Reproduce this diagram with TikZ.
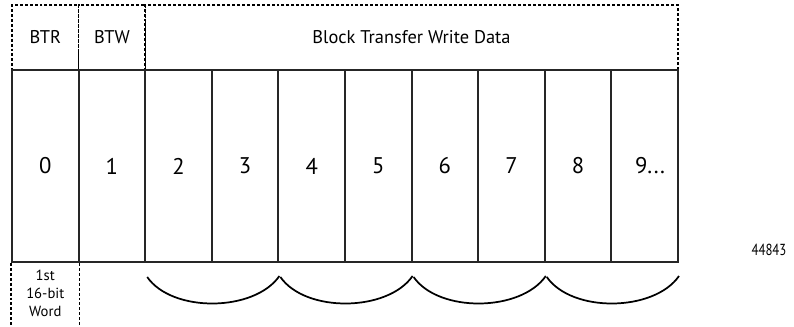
\documentclass[tikz,border=0pt]{standalone}
\usepackage{fontspec}
\setsansfont{PT Sans}
\usetikzlibrary{calc}
\tikzset{
  wordcell/.style={draw=black!85, line width=1.5pt, minimum width=66.6*0.75pt, minimum height=192*0.75pt,
    inner sep=0pt, font=\sffamily\fontsize{17}{20}\selectfont},
  hdrbox/.style={draw, line width=0.9pt, dash pattern=on 2.2pt off 1.5pt, minimum height=65*0.75pt,
    inner sep=0pt, font=\sffamily\fontsize{13.8}{16}\selectfont},
  hdrline/.style={line width=0.9pt, dash pattern=on 2.2pt off 1.5pt},
  curlyline/.style={line width=1.3pt},
}

\begin{document}
\begin{tikzpicture}[x=0.75pt, y=-0.75pt]
\useasboundingbox (0,0) rectangle (794,326);
% header boxes
\node[hdrbox, minimum width=66.6*0.75pt] (btr) at (45.3,37.5) {BTR};
\node[hdrbox, minimum width=66.6*0.75pt] (btw) at (111.9,37.5) {BTW};
\node[hdrbox, minimum width=533*0.75pt] (btwdata) at (411.5,37.5) {Block Transfer Write Data};
% words
\foreach \i in {0,...,8}
  \node[wordcell] (word\i) at ({45.3+66.6*\i},166) {\i};
\node[wordcell] (word9) at (644.7,166) {\hspace{8pt}9...};
% first word note
\draw[hdrline] (word0.south west) -- ++(0,64);
\draw[hdrline] (word0.south east) -- ++(0,64);
\node[font=\sffamily\fontsize{11}{13.5}\selectfont, align=center] (note) at (45.3,293) {1st\\16-bit\\Word};
% braces under word pairs
\foreach \a/\b in {2/3,4/5,6/7,8/9}
  \draw[curlyline] ($(word\a.south west)+(3,14)$) .. controls +(25,36) and +(-25,36) .. ($(word\b.south east)+(0,13)$);
\node[font=\sffamily\fontsize{12}{14}\selectfont, xscale=0.8] (fig) at (769,250) {44843};
\end{tikzpicture}
\end{document}
